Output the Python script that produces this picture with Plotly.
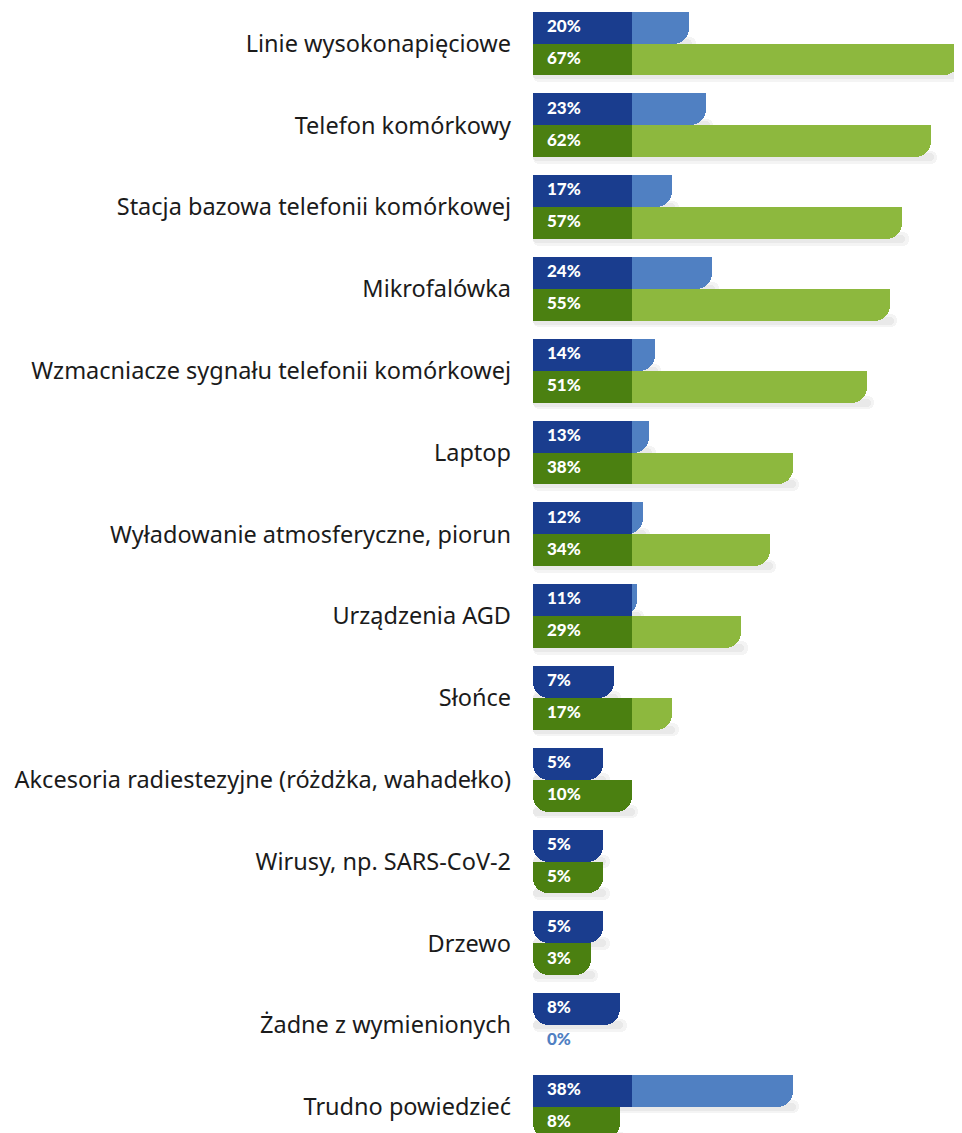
import numpy as np
import plotly.graph_objects as go

categories = [
    "Linie wysokonapięciowe",
    "Telefon komórkowy",
    "Stacja bazowa telefonii komórkowej",
    "Mikrofalówka",
    "Wzmacniacze sygnału telefonii komórkowej",
    "Laptop",
    "Wyładowanie atmosferyczne, piorun",
    "Urządzenia AGD",
    "Słońce",
    "Akcesoria radiestezyjne (różdżka, wahadełko)",
    "Wirusy, np. SARS-CoV-2",
    "Drzewo",
    "Żadne z wymienionych",
    "Trudno powiedzieć",
]
blue_values = [20, 23, 17, 24, 14, 13, 12, 11, 7, 5, 5, 5, 8, 38]
green_values = [67, 62, 57, 55, 51, 38, 34, 29, 17, 10, 5, 3, 0, 8]

# styling / geometry (page body has an 8px margin)
W, H = 962, 1133
PLOT_LEFT = 525
PX_PER_UNIT = 5.75          # px per percentage point
X0 = -7.13                   # bar base (data units)
DARK_END = 10.09             # end of dark label block (data units)
PITCH = 81.8                 # px per category
FIRST_CENTER = 35.5          # px from top of figure
BAR_W = 0.39                 # bar thickness (category units)

DARK_BLUE = "#1a3d8e"
LIGHT_BLUE = "#5080c2"
DARK_GREEN = "#4b8011"
LIGHT_GREEN = "#8db83e"
SHADOW = "rgba(0,0,0,0.045)"

pos = np.arange(len(categories), dtype=float)
x_max = X0 + (W - PLOT_LEFT) / PX_PER_UNIT
y_range = [(H - FIRST_CENTER) / PITCH, -FIRST_CENTER / PITCH]

fig = go.Figure()


def add_shadow(values, ypos):
    v = np.array(values, dtype=float)
    for extra, shift, thick in [(1.2, 0.06, 0.16), (0.6, 0.03, 0.10)]:
        length = np.where(v > 0, v + extra - X0, 0.0)
        fig.add_trace(go.Bar(
            y=ypos + BAR_W / 2 + shift - thick / 2 + 0.02, x=length, base=X0,
            orientation="h", width=thick,
            marker=dict(color=SHADOW, line=dict(width=0), cornerradius=6),
            hoverinfo="skip", showlegend=False))


def add_series(values, ypos, dark, light):
    v = np.array(values, dtype=float)
    length = np.where(v > 0, v - X0, 0.0)
    colors = [dark if val < DARK_END else light for val in v]
    # full bar with rounded end
    fig.add_trace(go.Bar(
        y=ypos, x=length, base=X0, orientation="h", width=BAR_W,
        marker=dict(color=colors, line=dict(width=0), cornerradius=16),
        hoverinfo="skip", showlegend=False))
    # square top half (so only bottom-right corner is rounded)
    fig.add_trace(go.Bar(
        y=ypos - BAR_W / 4, x=length, base=X0, orientation="h", width=BAR_W / 2,
        marker=dict(color=colors, line=dict(width=0)),
        hoverinfo="skip", showlegend=False))
    # dark block for long bars
    dlen = np.where(v >= DARK_END, DARK_END - X0, 0.0)
    fig.add_trace(go.Bar(
        y=ypos, x=dlen, base=X0, orientation="h", width=BAR_W,
        marker=dict(color=dark, line=dict(width=0)),
        hoverinfo="skip", showlegend=False))
    # value labels
    fig.add_trace(go.Scatter(
        y=ypos, x=np.full(len(v), X0 + 14 / PX_PER_UNIT),
        mode="text", text=[f"{int(val)}%" for val in v],
        textposition="middle right",
        textfont=dict(family="Lato", size=17, weight=900,
                      color=["white" if val > 0 else LIGHT_BLUE for val in v]),
        hoverinfo="skip", showlegend=False, cliponaxis=False))


add_shadow(blue_values, pos - BAR_W / 2)
add_shadow(green_values, pos + BAR_W / 2)
add_series(blue_values, pos - BAR_W / 2, DARK_BLUE, LIGHT_BLUE)
add_series(green_values, pos + BAR_W / 2, DARK_GREEN, LIGHT_GREEN)

fig.update_layout(
    width=W, height=H,
    margin=dict(l=PLOT_LEFT, r=0, t=0, b=0),
    paper_bgcolor="white", plot_bgcolor="white",
    barmode="overlay", bargap=0,
    xaxis=dict(range=[X0, x_max], visible=False, fixedrange=True),
    yaxis=dict(range=y_range, tickmode="array", tickvals=pos, ticktext=categories,
               showgrid=False, zeroline=False, showline=False, ticks="",
               ticklabelstandoff=21, automargin=False,
               tickfont=dict(family="Noto Sans", size=23.5, color="#1b1b1b")),
)

fig.write_html("out.html")
